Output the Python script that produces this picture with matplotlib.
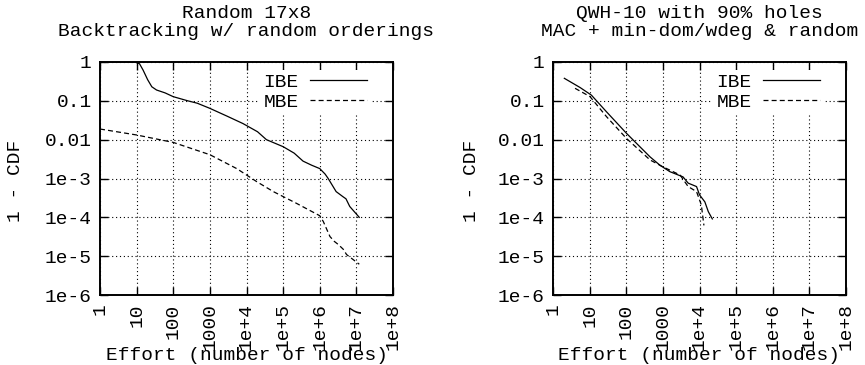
import numpy as np
import matplotlib
matplotlib.use("Agg")
import matplotlib.pyplot as plt
from matplotlib.ticker import FixedLocator, NullLocator

plt.rcParams['font.family'] = ['Liberation Mono', 'DejaVu Sans Mono']
plt.rcParams['font.size'] = 14

# left panel: Random 17x8
rnd_ibe_x = [1, 9, 12, 15, 20, 26, 35, 60, 100, 250, 450, 1000, 3000, 8000,
	2e4, 3.5e4, 1e5, 2e5, 3.5e5, 6e5, 1e6, 1.4e6, 1.7e6, 2.8e6, 4.3e6, 5.2e6, 6.6e6, 1.2e7]
rnd_ibe_y = [1, 1, 0.9, 0.62, 0.35, 0.23, 0.19, 0.16, 0.128, 0.1, 0.087, 0.064, 0.04, 0.026,
	0.016, 0.01, 0.0066, 0.0045, 0.0028, 0.0022, 0.0018, 0.0013, 1e-3, 4.6e-4, 3.4e-4, 3.0e-4, 1.9e-4, 1.0e-4]
rnd_mbe_x = [1, 10, 100, 1000, 5400, 1.9e4, 5.4e4, 2.3e5, 1e6, 1.25e6, 1.9e6, 2.5e6, 3.2e6, 4.4e6, 5.4e6, 1.2e7]
rnd_mbe_y = [0.0188, 0.0132, 0.0085, 0.0041, 0.0018, 8.3e-4, 4.6e-4, 2.3e-4, 1.1e-4, 7.8e-5, 3.2e-5,
	2.4e-5, 2.0e-5, 1.5e-5, 1.1e-5, 6.2e-6]

# right panel: QWH-10
qwh_ibe_x = [2.04, 5.5, 11.2, 29, 102, 447, 830, 1550, 3550, 4900, 8300, 1e4, 1.4e4, 1.74e4, 2.24e4]
qwh_ibe_y = [0.38, 0.22, 0.14, 0.052, 0.0145, 0.0036, 0.0022, 0.0015, 0.0011, 7.6e-4, 6.2e-4,
	3.8e-4, 2.5e-4, 1.4e-4, 9.1e-5]
qwh_mbe_x = [4, 10.2, 29, 102, 447, 1000, 2950, 4900, 8300, 1.12e4, 1.32e4]
qwh_mbe_y = [0.21, 0.129, 0.039, 0.0107, 0.003, 0.002, 0.00123, 6.2e-4, 4.6e-4, 2.1e-4, 6.2e-5]

xticks = [1, 10, 100, 1000, 1e4, 1e5, 1e6, 1e7, 1e8]
xlabels = ['1', '10', '100', '1000', '1e+4', '1e+5', '1e+6', '1e+7', '1e+8']
yticks = [1, 0.1, 0.01, 1e-3, 1e-4, 1e-5, 1e-6]
ylabels = ['1', '0.1', '0.01', '1e-3', '1e-4', '1e-5', '1e-6']

# title, series, axes left edge (px), y-label x (px)
panels = [
	("Random 17x8\nBacktracking w/ random orderings", rnd_ibe_x, rnd_ibe_y, rnd_mbe_x, rnd_mbe_y, 100, 15),
	("QWH-10 with 90% holes\nMAC + min-dom/wdeg & random", qwh_ibe_x, qwh_ibe_y, qwh_mbe_x, qwh_mbe_y, 553, 472),
]

W, H = 865, 365
fig = plt.figure(figsize=(W/100, H/100), dpi=100)
for title, ix, iy, mx, my, left, ylx in panels:
	ax = fig.add_axes([left/W, 1-295/H, 293/W, 233/H])
	ax.set_xscale('log')
	ax.set_yscale('log')
	ax.set_xlim(1, 1e8)
	ax.set_ylim(1e-6, 1)
	ax.grid(True, which='major', color='black', linestyle=(0, (1, 2.5)), linewidth=0.8)
	ax.plot(ix, iy, color='black', linewidth=0.9, label='IBE')
	ax.plot(mx, my, color='black', linewidth=0.9, linestyle=(0, (4, 2.5)), label='MBE')
	ax.xaxis.set_major_locator(FixedLocator(xticks))
	ax.yaxis.set_major_locator(FixedLocator(yticks))
	ax.xaxis.set_minor_locator(NullLocator())
	ax.yaxis.set_minor_locator(NullLocator())
	ax.set_xticklabels(xlabels, rotation=90, va='top', ha='center')
	ax.set_yticklabels(ylabels)
	ax.tick_params(which='major', direction='in', length=6, width=1, top=True, right=True, pad=6)
	for s in ax.spines.values():
		s.set_linewidth(1.4)
	ax.set_title(title, fontsize=14, pad=19, linespacing=1.05)
	ax.set_xlabel('Effort (number of nodes)')
	ax.xaxis.set_label_coords(0.5, -0.26)
	ax.xaxis.label.set_va('center')
	ax.set_ylabel('1 - CDF', va='center')
	ax.yaxis.set_label_coords((ylx - left) / 293, 0.49)
	ax.legend(loc='upper right', bbox_to_anchor=(0.95, 1), markerfirst=False, frameon=True,
		fancybox=False, edgecolor='none', facecolor='white', framealpha=1, handlelength=2.9,
		borderpad=0.2, labelspacing=0.1, handletextpad=0.6, borderaxespad=0.4)

fig.savefig('out.png', dpi=100)
